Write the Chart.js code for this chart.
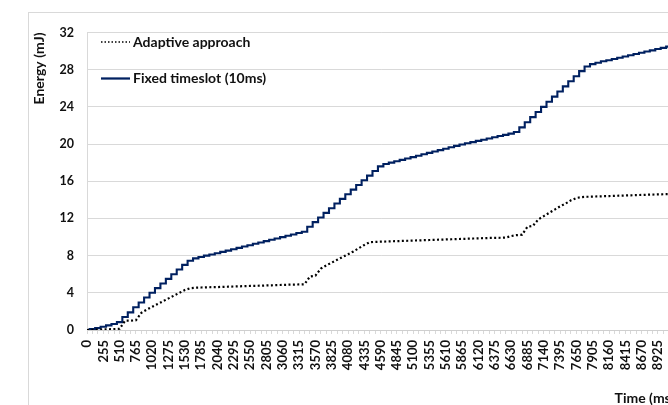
<!DOCTYPE html>
<html>
<head>
<meta charset="utf-8">
<script src="https://cdn.jsdelivr.net/npm/chart.js@4.4.0/dist/chart.umd.min.js"></script>
<style>
  html, body { margin: 0; padding: 0; background: #fff; overflow: hidden; width: 668px; height: 405px; }
  #frame { position: absolute; left: 28px; top: 12px; width: 760px; height: 460px; border-left: 1px solid #d9d9d9; border-top: 1px solid #d9d9d9; }
  #wrap { position: absolute; left: 28px; top: 12px; width: 700px; height: 400px; }
</style>
</head>
<body>
<div id="frame"></div>
<div id="wrap"><canvas id="energyChart" width="700" height="400"></canvas></div>
<script>
// time axis (ms), one category every 85 ms, label on every 3rd
const timeMs = [0,85,170,255,340,425,510,595,680,765,850,935,1020,1105,1190,1275,1360,1445,1530,1615,1700,1785,1870,1955,2040,2125,2210,2295,2380,2465,2550,2635,2720,2805,2890,2975,3060,3145,3230,3315,3400,3485,3570,3655,3740,3825,3910,3995,4080,4165,4250,4335,4420,4505,4590,4675,4760,4845,4930,5015,5100,5185,5270,5355,5440,5525,5610,5695,5780,5865,5950,6035,6120,6205,6290,6375,6460,6545,6630,6715,6800,6885,6970,7055,7140,7225,7310,7395,7480,7565,7650,7735,7820,7905,7990,8075,8160,8245,8330,8415,8500,8585,8670,8755,8840,8925,9010,9095,9180];

const adaptive = [0,0.02,0.04,0.06,0.08,0.1,0.13,
  1.0,1.0,1.05,1.85,2.2,2.5,2.8,3.1,3.4,3.7,4.0,4.3,4.5,
  4.55,4.57,4.59,4.61,4.62,4.64,4.66,4.68,4.7,4.72,4.74,4.75,4.77,4.79,4.81,4.83,4.85,4.87,4.88,4.9,4.92,
  5.75,5.85,6.6,6.95,7.25,7.55,7.85,8.15,8.45,8.8,9.15,9.45,
  9.48,9.5,9.52,9.54,9.56,9.58,9.6,9.62,9.64,9.66,9.68,9.7,9.72,9.74,9.76,9.78,9.8,9.82,9.84,9.86,9.88,9.9,9.91,9.92,9.95,
  10.1,10.2,10.25,11.1,11.2,11.9,12.25,12.6,12.95,13.3,13.6,13.95,14.2,14.3,14.33,
  14.35,14.37,14.39,14.41,14.43,14.45,14.47,14.49,14.51,14.53,14.55,14.57,14.59,14.6,14.62,14.63];

const fixedSlot = [0,0.1,0.2,0.35,0.5,0.65,0.85,
  1.4,1.9,2.45,2.95,3.5,4.0,4.5,5.0,5.5,6.0,6.5,7.0,7.45,
  7.7,7.85,8.0,8.12,8.25,
  8.4,8.54,8.69,8.83,8.98,9.12,9.27,9.41,9.56,9.7,9.85,9.99,10.14,10.28,10.43,10.57,
  11.1,11.6,12.1,12.6,13.1,13.6,14.1,14.6,15.1,15.6,16.1,16.6,17.1,17.6,17.85,
  18.0,18.15,18.3,18.45,18.6,18.75,18.9,19.05,19.2,19.35,19.5,19.65,19.8,19.95,
  20.08,20.21,20.34,20.47,20.6,20.73,20.86,20.99,21.12,21.3,
  21.8,22.35,22.9,23.45,24.0,24.55,25.1,25.65,26.2,26.75,27.3,27.85,28.35,28.6,
  28.75,28.9,29.02,29.15,29.28,29.42,29.55,29.68,29.82,29.95,30.08,30.22,30.35,30.48,30.62];

const seriesNames = ['Adaptive approach', 'Fixed timeslot (10ms)'];
const yTicks = [0, 4, 8, 12, 16, 20, 24, 28, 32];

const textColor = '#111111';
const gridColor = '#d9d9d9';

// legend sits inside the plot, top-left, stacked
const insideLegend = {
    id: 'insideLegend',
    afterDraw(chart) {
        const ctx = chart.ctx;
        const rows = [30, 66.5];
        ctx.save();
        chart.data.datasets.forEach((ds, i) => {
            const y = rows[i];
            ctx.beginPath();
            ctx.strokeStyle = ds.borderColor;
            ctx.lineWidth = i === 0 ? 1.5 : 2.25;
            ctx.setLineDash(i === 0 ? [1.5, 2] : []);
            ctx.moveTo(73, y);
            ctx.lineTo(102, y);
            ctx.stroke();
            ctx.setLineDash([]);
            ctx.fillStyle = textColor;
            ctx.font = 'bold 14px Lato';
            ctx.textBaseline = 'middle';
            ctx.textAlign = 'left';
            ctx.fillText(ds.label, 105, y);
        });
        ctx.restore();
    }
};

Chart.defaults.font.family = 'Lato';

new Chart(document.getElementById('energyChart').getContext('2d'), {
    type: 'line',
    data: {
        labels: timeMs,
        datasets: [{
            label: seriesNames[0],
            data: adaptive,
            borderColor: '#000000',
            borderWidth: 2.2,
            borderDash: [2, 2.4],
            pointRadius: 0,
            tension: 0,
            fill: false
        }, {
            label: seriesNames[1],
            data: fixedSlot,
            borderColor: '#002060',
            borderWidth: 2.1,
            stepped: 'middle',
            pointRadius: 0,
            fill: false
        }]
    },
    options: {
        responsive: false,
        devicePixelRatio: 1,
        animation: false,
        layout: { padding: { left: 0, top: 10, right: 53.7, bottom: 0 } },
        plugins: { legend: { display: false }, tooltip: { enabled: false } },
        scales: {
            x: {
                type: 'category',
                offset: false,
                grid: { drawOnChartArea: false, drawTicks: true, tickLength: 4, color: gridColor },
                border: { display: true, color: '#cfcfcf' },
                ticks: {
                    autoSkip: false,
                    minRotation: 90,
                    maxRotation: 90,
                    padding: 6,
                    color: textColor,
                    font: { size: 13, weight: 'bold' },
                    callback: function (val, idx) {
                        return idx % 3 === 0 ? String(this.getLabelForValue(val)) : '';
                    }
                },
                title: {
                    display: true,
                    text: 'Time (ms)',
                    align: 'end',
                    color: textColor,
                    font: { size: 14, weight: 'bold' },
                    padding: { top: 0, bottom: 5 }
                },
                afterFit: (scale) => { scale.height = 82; }
            },
            y: {
                min: 0,
                max: 32,
                afterBuildTicks: (scale) => { scale.ticks = yTicks.map(v => ({ value: v })); },
                grid: { color: gridColor, drawTicks: false },
                border: { display: true, color: gridColor },
                ticks: {
                    padding: 13,
                    color: textColor,
                    font: { size: 12.5, weight: 'bold' }
                },
                title: {
                    display: true,
                    text: 'Energy (mJ)',
                    align: 'end',
                    color: textColor,
                    font: { size: 14, weight: 'bold' },
                    padding: { top: 3, bottom: 0 }
                },
                afterFit: (scale) => { scale.width = 59; }
            }
        }
    },
    plugins: [insideLegend]
});
</script>
</body>
</html>
